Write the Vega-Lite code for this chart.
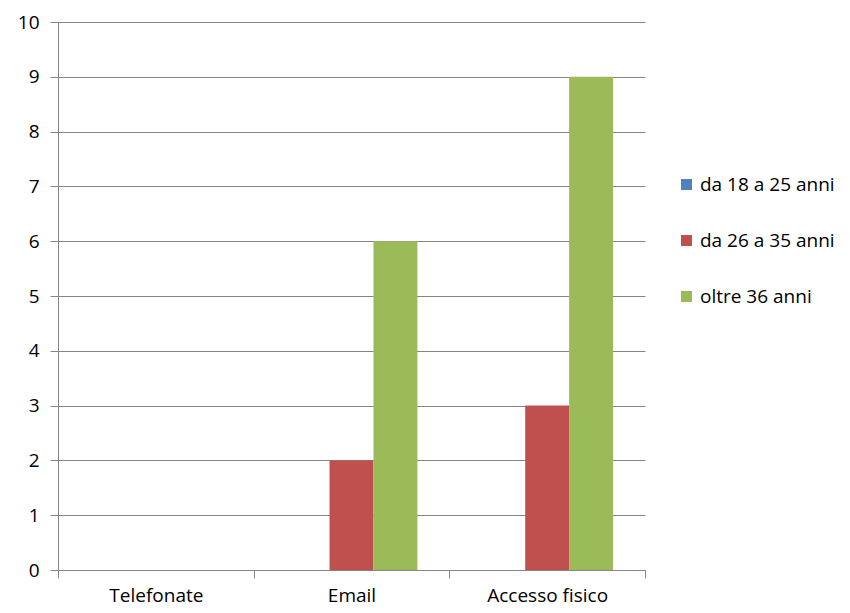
{
  "$schema": "https://vega.github.io/schema/vega-lite/v6.json",
  "width": 587,
  "height": 548,
  "autosize": "none",
  "padding": {"left": 58, "top": 22, "right": 205, "bottom": 43},
  "background": "white",
  "data": {
    "values": [
      {"categoria": "Telefonate", "serie": "da 18 a 25 anni", "valore": 0},
      {"categoria": "Telefonate", "serie": "da 26 a 35 anni", "valore": 0},
      {"categoria": "Telefonate", "serie": "oltre 36 anni", "valore": 0},
      {"categoria": "Email", "serie": "da 18 a 25 anni", "valore": 0},
      {"categoria": "Email", "serie": "da 26 a 35 anni", "valore": 2},
      {"categoria": "Email", "serie": "oltre 36 anni", "valore": 6},
      {"categoria": "Accesso fisico", "serie": "da 18 a 25 anni", "valore": 0},
      {"categoria": "Accesso fisico", "serie": "da 26 a 35 anni", "valore": 3},
      {"categoria": "Accesso fisico", "serie": "oltre 36 anni", "valore": 9}
    ]
  },
  "mark": {"type": "bar"},
  "encoding": {
    "x": {
      "field": "categoria",
      "type": "nominal",
      "sort": ["Telefonate", "Email", "Accesso fisico"],
      "scale": {"paddingInner": 0, "paddingOuter": 0},
      "axis": {
        "title": null,
        "labelAngle": 0,
        "tickBand": "extent",
        "domainColor": "#868686",
        "tickColor": "#868686",
        "tickSize": 8,
        "labelPadding": 8,
        "labelFont": "Open Sans",
        "labelFontSize": 19,
        "labelColor": "#000000",
        "grid": false
      }
    },
    "xOffset": {
      "field": "serie",
      "type": "nominal",
      "scale": {"paddingInner": 0, "paddingOuter": 0.727}
    },
    "y": {
      "field": "valore",
      "type": "quantitative",
      "scale": {"domain": [0, 10], "nice": false},
      "axis": {
        "title": null,
        "values": [0, 1, 2, 3, 4, 5, 6, 7, 8, 9, 10],
        "grid": true,
        "gridColor": "#868686",
        "domainColor": "#868686",
        "tickColor": "#868686",
        "tickSize": 8,
        "labelPadding": 11,
        "labelFont": "Open Sans",
        "labelFontSize": 19,
        "labelColor": "#000000"
      }
    },
    "color": {
      "field": "serie",
      "type": "nominal",
      "scale": {
        "domain": ["da 18 a 25 anni", "da 26 a 35 anni", "oltre 36 anni"],
        "range": ["#4F81BD", "#C0504D", "#9BBB59"]
      },
      "legend": {
        "title": null,
        "orient": "none",
        "legendX": 619,
        "legendY": 153,
        "symbolType": "square",
        "symbolSize": 121,
        "symbolStrokeWidth": 0,
        "labelFont": "Open Sans",
        "labelFontSize": 19,
        "labelColor": "#000000",
        "labelLimit": 250,
        "rowPadding": 36
      }
    }
  },
  "config": {"view": {"stroke": null}}
}
